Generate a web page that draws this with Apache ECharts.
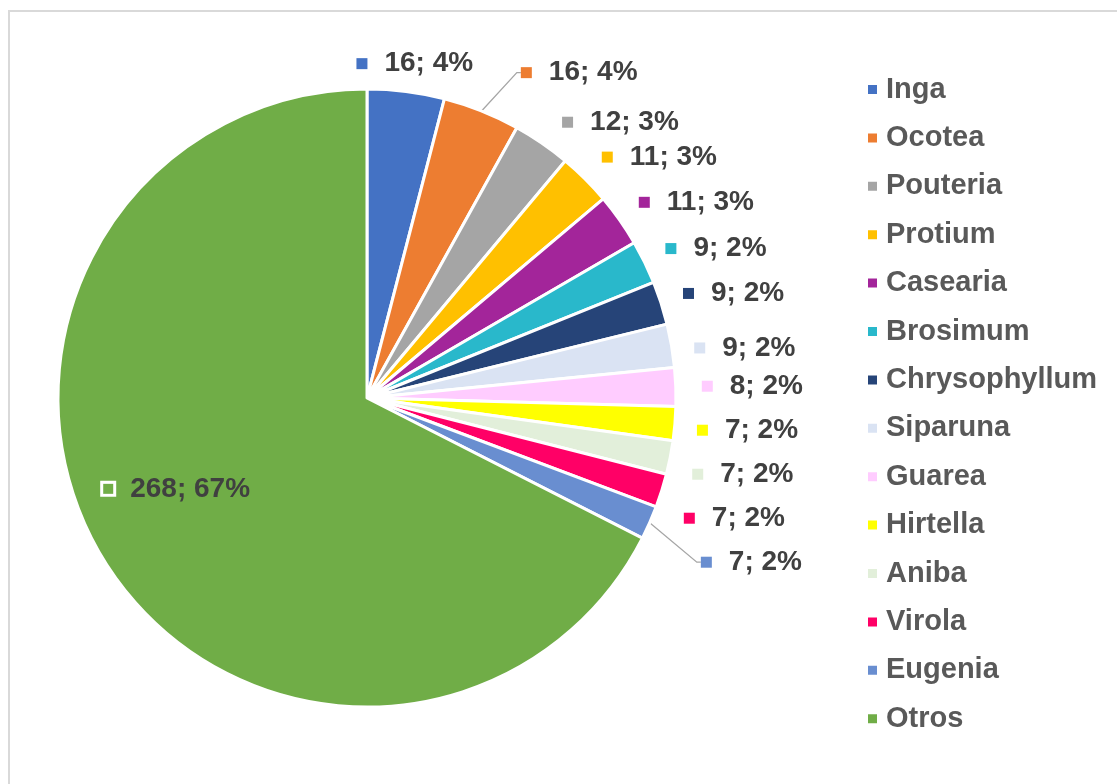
<!DOCTYPE html>
<html>
<head>
<meta charset="utf-8">
<script src="https://cdn.jsdelivr.net/npm/echarts@6/dist/echarts.min.js"></script>
<style>
html,body{margin:0;padding:0;background:#fff;overflow:hidden;}
#frame{position:absolute;left:8px;top:10px;width:1130px;height:800px;border:2px solid #d9d9d9;box-sizing:border-box;}
#chart{position:absolute;left:0;top:0;width:1117px;height:784px;}
</style>
</head>
<body>
<div id="frame"></div>
<div id="chart"></div>
<script>
const categories = ['Inga','Ocotea','Pouteria','Protium','Casearia','Brosimum','Chrysophyllum','Siparuna','Guarea','Hirtella','Aniba','Virola','Eugenia','Otros'];
const values = [16,16,12,11,11,9,9,9,8,7,7,7,7,268];
const colors = ['#4472C4','#ED7D31','#A5A5A5','#FFC000','#A3259A','#29B8CB','#264478','#DAE3F3','#FFCCFF','#FFFF00','#E2EFDA','#FF0066','#698ED0','#70AD47'];

const FONT = 'Liberation Sans, Arial, sans-serif';
const rich = {};
colors.forEach((c, i) => {
  rich['s' + i] = {backgroundColor: c, width: 11, height: 11};
});
rich.s13 = {backgroundColor: '#70AD47', borderColor: '#ffffff', borderWidth: 3, width: 10, height: 10};
rich.t = {fontSize: 28, fontWeight: 'bold', color: '#404040', fontFamily: FONT, padding: [0,0,0,17]};

const CX = 367, CY = 398, R = 309, LEN = 22, ROW = 44;

// mid angles of the slices (from 12 o'clock, clockwise)
const total = values.reduce((a, b) => a + b, 0);
const midAngles = [];
let acc = 0;
values.forEach(v => { midAngles.push((acc + v / 2) / total * 2 * Math.PI); acc += v; });

// stack the lower right labels so they do not crowd each other
const naturalY = midAngles.map(a => CY - (R + LEN) * Math.cos(a));
const stackedY = {};
let prevY = null;
for (let i = 8; i <= 12; i++) {
  const y = prevY === null ? naturalY[i] : Math.max(naturalY[i], prevY + ROW);
  stackedY[i] = y;
  prevY = y;
}

const data = categories.map((n, i) => {
  const d = {name: n, value: values[i], itemStyle: {color: colors[i]}};
  if (i === 13) d.label = {position: 'inside'};
  if (i !== 1 && i !== 12) d.labelLine = {show: false};
  return d;
});

const chart = echarts.init(document.getElementById('chart'));
chart.setOption({
  animation: false,
  legend: {
    orient: 'vertical',
    left: 861,
    top: 70,
    itemWidth: 11,
    itemHeight: 11,
    itemGap: 19.4,
    icon: 'rect',
    textStyle: {fontSize: 29, fontWeight: 'bold', color: '#595959', fontFamily: FONT, padding: [0,0,0,3]},
    data: categories
  },
  series: [{
    type: 'pie',
    center: [CX, CY],
    radius: [0, R],
    startAngle: 90,
    clockwise: true,
    percentPrecision: 0,
    itemStyle: {borderColor: '#fff', borderWidth: 3},
    label: {
      show: true,
      position: 'outside',
      formatter: p => `{s${p.dataIndex}|}{t|${p.value}; ${p.percent}%}`,
      rich: rich,
      distanceToLabelLine: 2
    },
    labelLine: {show: true, length: LEN, length2: 4, lineStyle: {color: '#a6a6a6', width: 1.3}},
    labelLayout: function (p) {
      const r = p.labelRect;
      const i = p.dataIndex;
      const cy = r.y + r.height / 2;
      if (i === 13) {
        const cx = r.x + r.width / 2;
        const k = 1.31;
        return {dx: (cx - CX) * (k - 1) - 14, dy: (cy - CY) * (k - 1) - 17};
      }
      if (i === 0) {
        return {dx: -r.width / 2, dy: -6};
      }
      if (i === 1) {
        return {x: r.x + 6, y: cy - 27};
      }
      if (i >= 9 && i <= 12) {
        const shift = stackedY[i] - naturalY[i];
        return {x: r.x + (shift > 25 ? 25 : -4), y: cy + shift};
      }
      if (i === 7) return {dx: -3, dy: 6};
      const a = midAngles[i];
      if (a < Math.PI * 0.44) {
        return {dx: -3, dy: -9 * Math.cos(a)};
      }
      return {};
    },
    data: data
  }]
});
</script>
</body>
</html>
